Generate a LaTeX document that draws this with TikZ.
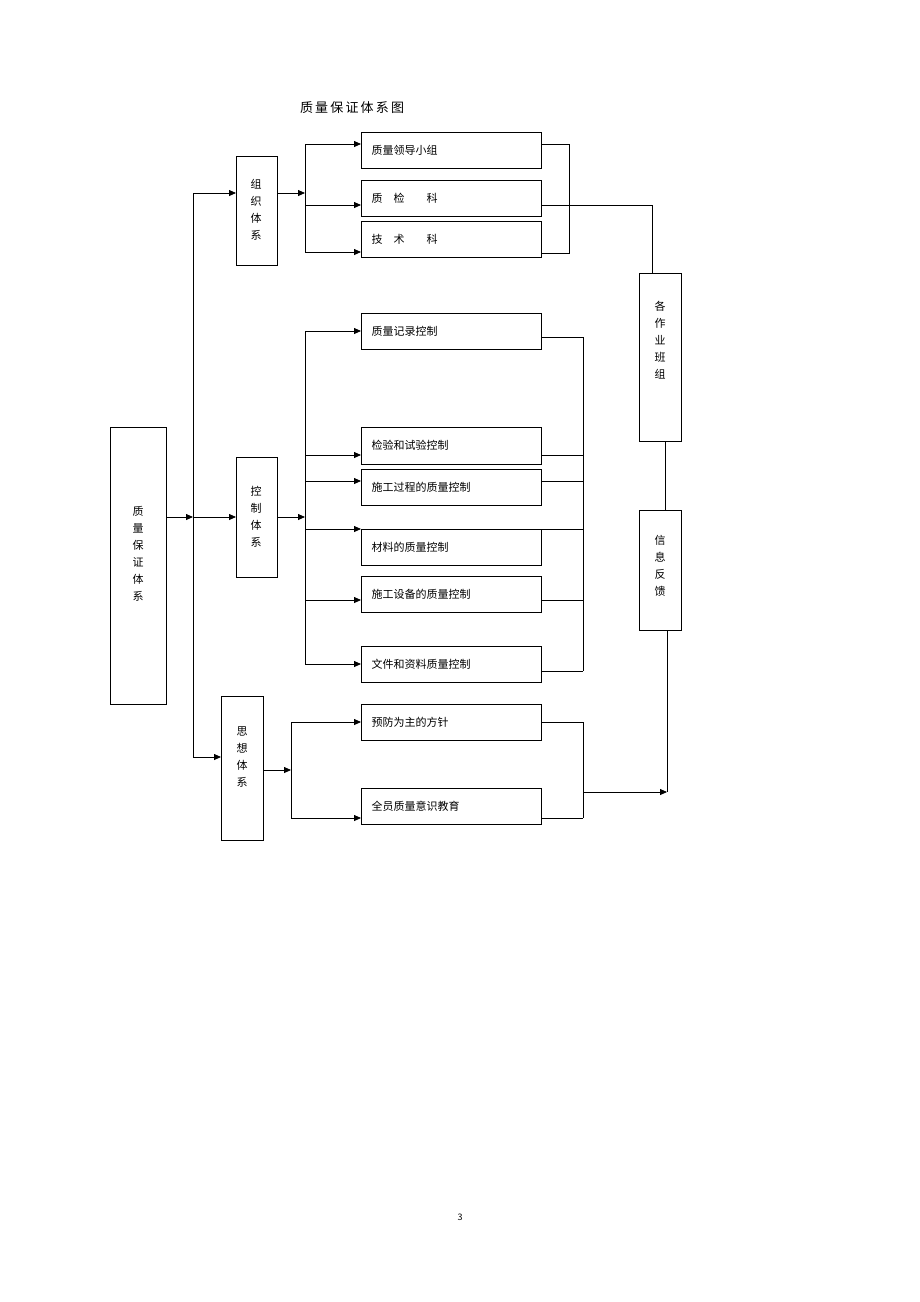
\documentclass[tikz,border=0pt]{standalone}
\usepackage{fontspec}
\setmainfont{Noto Sans CJK SC}
\usetikzlibrary{arrows.meta}
\begin{document}
\begin{tikzpicture}[x=1pt,y=-1pt,
  bx/.style={draw,line width=0.8pt,inner sep=0pt},
  ln/.style={line width=0.8pt},
  ar/.style={ln,-{Triangle[length=7pt,width=6pt]}},
  lab/.style={font=\fontsize{11}{11}\selectfont,anchor=west},
  vlab/.style={font=\fontsize{11}{17}\selectfont,align=center}]
\useasboundingbox (0,0) rectangle (920,1302);
\node[font=\fontsize{13}{13}\selectfont] (title) at (352,108) {质\,量\,保\,证\,体\,系\,图};
% left column
\draw[bx] (110,427) rectangle (166,704); \node[vlab] (main) at (138,554) {质\\量\\保\\证\\体\\系};
\draw[bx] (236,156) rectangle (277,265); \node[vlab] (zz) at (256,210) {组\\织\\体\\系};
\draw[bx] (236,457) rectangle (277,577); \node[vlab] (kz) at (256,517) {控\\制\\体\\系};
\draw[bx] (221,696) rectangle (263,840); \node[vlab] (sx) at (242,757) {思\\想\\体\\系};
\coordinate (t0) at (193,517);
\draw[ar] (166,517) -- (t0);
\draw[ar] (t0) -- (236,517);
\draw[ln] (193,193) -- (193,757);
\draw[ar] (193,193) -- (236,193);
\draw[ar] (193,757) -- (221,757);
% org
\draw[ar] (277,193) -- (305,193);
\draw[ln] (305,144) -- (305,252);
\foreach \y/\a/\b/\t in {144/132/168/质量领导小组, 205/180/216/质\quad 检\qquad 科, 252/221/257/技\quad 术\qquad 科}{
  \draw[ar] (305,\y) -- (361,\y);
  \draw[bx] (361,\a) rectangle (541,\b);
  \node[lab] at (368,{(\a+\b)/2}) {\t};
}
\draw[ln] (541,144) -- (569,144) -- (569,253) -- (541,253);
\draw[ln] (541,205) -- (652,205) -- (652,273);
\draw[bx] (639,273) rectangle (681,441); \node[vlab] (zy) at (660,340) {各\\作\\业\\班\\组};
\draw[bx] (639,510) rectangle (681,630); \node[vlab] (xx) at (660,566) {信\\息\\反\\馈};
\draw[ln] (665,441) -- (665,510);
% control
\draw[ar] (277,517) -- (305,517);
\draw[ln] (305,331) -- (305,664);
\foreach \y/\a/\b/\r/\t in {331/313/349/337/质量记录控制, 455/427/464/455/检验和试验控制, 481/469/505/481/施工过程的质量控制, 529/529/565/529/材料的质量控制, 600/576/612/600/施工设备的质量控制, 664/646/682/671/文件和资料质量控制}{
  \draw[ar] (305,\y) -- (361,\y);
  \draw[bx] (361,\a) rectangle (541,\b);
  \node[lab] at (368,{(\a+\b)/2}) {\t};
  \draw[ln] (541,\r) -- (583,\r);
}
\draw[ln] (583,337) -- (583,671);
% thought
\draw[ar] (263,770) -- (291,770);
\draw[ln] (291,722) -- (291,818);
\foreach \y/\a/\b/\t in {722/704/740/预防为主的方针, 818/788/824/全员质量意识教育}{
  \draw[ar] (291,\y) -- (361,\y);
  \draw[bx] (361,\a) rectangle (541,\b);
  \node[lab] at (368,{(\a+\b)/2}) {\t};
  \draw[ln] (541,\y) -- (583,\y);
}
\draw[ln] (583,722) -- (583,818);
\draw[ln] (667,630) -- (667,792);
\draw[ar] (583,792) -- (667,792);
\node[font=\fontsize{9}{9}\selectfont] (pg) at (460,1217) {3};
\end{tikzpicture}
\end{document}
